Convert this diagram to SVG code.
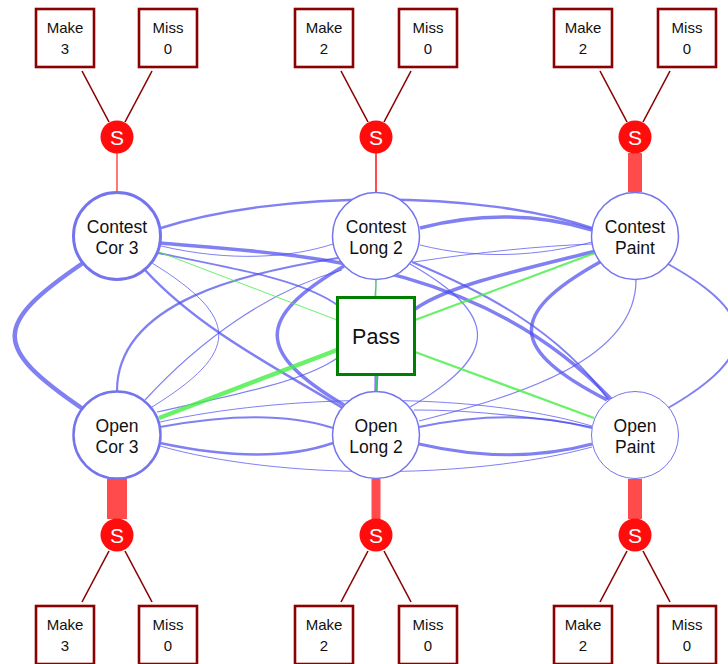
<svg xmlns="http://www.w3.org/2000/svg" width="728" height="664" viewBox="0 0 728 664">
<style>
.bg{fill:#fff}
.e{fill:none;stroke:#4a4aee;stroke-opacity:0.7}
.g{fill:none;stroke:#44ee44;stroke-opacity:0.8}
.r{fill:none;stroke:#ff3c3c;stroke-opacity:0.92}
.d{fill:none;stroke:#8b0000;stroke-width:1.6}
.node{fill:#fff;stroke:#7474ee}
.box{fill:#fff;stroke:#8b0000;stroke-width:2.6}
.pass{fill:#fff;stroke:#008000;stroke-width:3}
.s{fill:#ff0d0d}
.t{font-family:"Liberation Sans",Arial,sans-serif;fill:#111;text-anchor:middle}
.nt{font-size:17.5px}
.bt{font-size:15px}
.st{font-family:"Liberation Sans",Arial,sans-serif;fill:#fff;font-size:21px;text-anchor:middle}
</style>
<rect class="bg" x="0" y="0" width="728" height="664"/>
<g id="connectors">
  <!-- blue edges -->
  <path class="e" stroke-width="4.5" d="M83,263 C-8,325 -8,347 83,409"/>
  <path class="e" stroke-width="1" d="M152,263 C241,318 241,352 152,407"/>
  <path class="e" stroke-width="3.5" d="M344,266 C255,318 255,352 344,405"/>
  <path class="e" stroke-width="1.2" d="M410,264 C500,315 500,355 410,407"/>
  <path class="e" stroke-width="3.5" d="M600,262 C505,315 510,350 607,400"/>
  <path class="e" stroke-width="1.8" d="M668,264 C760,315 760,355 668,408"/>
  <path class="e" stroke-width="2.5" d="M161,228 C280,190 480,190 592,228"/>
  <path class="e" stroke-width="3.5" d="M420,228 C480,212 540,214 592,230"/>
  <path class="e" stroke-width="1" d="M420,245 C480,260 540,256 592,242"/>
  <path class="e" stroke-width="1" d="M414,262 C480,252 540,246 592,244"/>
  <path class="e" stroke-width="1" d="M161,246 C230,262 290,258 333,244"/>
  <path class="e" stroke-width="3.5" d="M160,243 C300,255 480,260 612,400"/>
  <path class="e" stroke-width="1.8" d="M158,253 C300,282 376,290 376,391"/>
  <path class="e" stroke-width="2.5" d="M145,270 C200,330 280,370 346,410"/>
  <path class="e" stroke-width="2.2" d="M338,258 C250,272 117,300 117,391"/>
  <path class="e" stroke-width="1.2" d="M145,400 C200,340 270,290 342,270"/>
  <path class="e" stroke-width="1.2" d="M376,280 C376,370 300,380 157,412"/>
  <path class="e" stroke-width="3.5" d="M376,391 C376,300 440,290 596,251"/>
  <path class="e" stroke-width="1.2" d="M636,280 C636,360 520,395 419,421"/>
  <path class="e" stroke-width="2" d="M412,262 C480,290 560,330 610,402"/>
  <path class="e" stroke-width="2" d="M160,427 C230,414 290,414 333,428"/>
  <path class="e" stroke-width="2.5" d="M160,443 C230,458 290,458 333,443"/>
  <path class="e" stroke-width="1" d="M160,422 C280,395 470,390 592,426"/>
  <path class="e" stroke-width="1" d="M160,446 C280,480 470,480 592,447"/>
  <path class="e" stroke-width="2" d="M419,427 C480,414 540,414 592,428"/>
  <path class="e" stroke-width="3" d="M419,444 C480,458 540,458 592,444"/>
  <path class="e" stroke-width="1.2" d="M414,410 C480,410 540,418 592,427"/>
  <!-- green edges -->
  <path class="g" stroke-width="1" d="M159,252 L337,320"/>
  <path class="g" stroke-width="4.5" d="M159,418 L337,350"/>
  <path class="g" stroke-width="2.2" d="M415,320 L595,253"/>
  <path class="g" stroke-width="2.2" d="M415,352 L594,418"/>
  <path class="g" stroke-width="1" d="M376,280 L376,298"/>
  <path class="g" stroke-width="1.5" d="M376,374 L376,391"/>
  <!-- red edges -->
  <path class="r" stroke-width="1.5" d="M117,153 L117,192"/>
  <path class="r" stroke-width="2" d="M376,153 L376,192"/>
  <path class="r" stroke-width="14" d="M635,153 L635,192"/>
  <path class="r" stroke-width="20" d="M117,479 L117,519"/>
  <path class="r" stroke-width="9" d="M376,479 L376,519"/>
  <path class="r" stroke-width="14" d="M635,479 L635,519"/>
  <!-- dark red outcome edges -->
  <path class="d" d="M109,122 L82,71"/>
  <path class="d" d="M125,122 L152,71"/>
  <path class="d" d="M368,122 L341,71"/>
  <path class="d" d="M384,122 L411,71"/>
  <path class="d" d="M627,122 L600,71"/>
  <path class="d" d="M643,122 L670,71"/>
  <path class="d" d="M109,551 L82,602"/>
  <path class="d" d="M125,551 L152,602"/>
  <path class="d" d="M368,551 L341,602"/>
  <path class="d" d="M384,551 L411,602"/>
  <path class="d" d="M627,551 L600,602"/>
  <path class="d" d="M643,551 L670,602"/>
</g>
<g id="contest-cor3"><circle class="node" cx="117" cy="236" r="43.5" stroke-width="3"/><text class="t nt" x="117" y="232.5">Contest</text><text class="t nt" x="117" y="253.5">Cor 3</text></g>
<g id="contest-long2"><circle class="node" cx="376" cy="236" r="43.5" stroke-width="1.5"/><text class="t nt" x="376" y="232.5">Contest</text><text class="t nt" x="376" y="253.5">Long 2</text></g>
<g id="contest-paint"><circle class="node" cx="635" cy="236" r="43.5" stroke-width="1.5"/><text class="t nt" x="635" y="232.5">Contest</text><text class="t nt" x="635" y="253.5">Paint</text></g>
<g id="open-cor3"><circle class="node" cx="117" cy="435" r="43.5" stroke-width="2.5"/><text class="t nt" x="117" y="431.5">Open</text><text class="t nt" x="117" y="452.5">Cor 3</text></g>
<g id="open-long2"><circle class="node" cx="376" cy="435" r="43.5" stroke-width="1.5"/><text class="t nt" x="376" y="431.5">Open</text><text class="t nt" x="376" y="452.5">Long 2</text></g>
<g id="open-paint"><circle class="node" cx="635" cy="435" r="43.5" stroke-width="1"/><text class="t nt" x="635" y="431.5">Open</text><text class="t nt" x="635" y="452.5">Paint</text></g>
<g id="pass"><rect class="pass" x="337.5" y="297.5" width="77" height="77"/><text class="t" x="376" y="344" font-size="21.5px">Pass</text></g>
<g id="s-top-cor3"><circle class="s" cx="117" cy="137" r="16.5"/><text class="st" x="117" y="144.5">S</text></g>
<g id="s-top-long2"><circle class="s" cx="376" cy="137" r="16.5"/><text class="st" x="376" y="144.5">S</text></g>
<g id="s-top-paint"><circle class="s" cx="635" cy="137" r="16.5"/><text class="st" x="635" y="144.5">S</text></g>
<g id="s-bot-cor3"><circle class="s" cx="117" cy="535" r="16.5"/><text class="st" x="117" y="542.5">S</text></g>
<g id="s-bot-long2"><circle class="s" cx="376" cy="535" r="16.5"/><text class="st" x="376" y="542.5">S</text></g>
<g id="s-bot-paint"><circle class="s" cx="635" cy="535" r="16.5"/><text class="st" x="635" y="542.5">S</text></g>
<g id="make-top-cor3"><rect class="box" x="36" y="9" width="58" height="58"/><text class="t bt" x="65" y="33">Make</text><text class="t bt" x="65" y="54">3</text></g>
<g id="miss-top-cor3"><rect class="box" x="139" y="9" width="58" height="58"/><text class="t bt" x="168" y="33">Miss</text><text class="t bt" x="168" y="54">0</text></g>
<g id="make-top-long2"><rect class="box" x="295" y="9" width="58" height="58"/><text class="t bt" x="324" y="33">Make</text><text class="t bt" x="324" y="54">2</text></g>
<g id="miss-top-long2"><rect class="box" x="399" y="9" width="58" height="58"/><text class="t bt" x="428" y="33">Miss</text><text class="t bt" x="428" y="54">0</text></g>
<g id="make-top-paint"><rect class="box" x="554" y="9" width="58" height="58"/><text class="t bt" x="583" y="33">Make</text><text class="t bt" x="583" y="54">2</text></g>
<g id="miss-top-paint"><rect class="box" x="658" y="9" width="58" height="58"/><text class="t bt" x="687" y="33">Miss</text><text class="t bt" x="687" y="54">0</text></g>
<g id="make-bot-cor3"><rect class="box" x="36" y="606" width="58" height="58"/><text class="t bt" x="65" y="630">Make</text><text class="t bt" x="65" y="651">3</text></g>
<g id="miss-bot-cor3"><rect class="box" x="139" y="606" width="58" height="58"/><text class="t bt" x="168" y="630">Miss</text><text class="t bt" x="168" y="651">0</text></g>
<g id="make-bot-long2"><rect class="box" x="295" y="606" width="58" height="58"/><text class="t bt" x="324" y="630">Make</text><text class="t bt" x="324" y="651">2</text></g>
<g id="miss-bot-long2"><rect class="box" x="399" y="606" width="58" height="58"/><text class="t bt" x="428" y="630">Miss</text><text class="t bt" x="428" y="651">0</text></g>
<g id="make-bot-paint"><rect class="box" x="554" y="606" width="58" height="58"/><text class="t bt" x="583" y="630">Make</text><text class="t bt" x="583" y="651">2</text></g>
<g id="miss-bot-paint"><rect class="box" x="658" y="606" width="58" height="58"/><text class="t bt" x="687" y="630">Miss</text><text class="t bt" x="687" y="651">0</text></g>
</svg>
